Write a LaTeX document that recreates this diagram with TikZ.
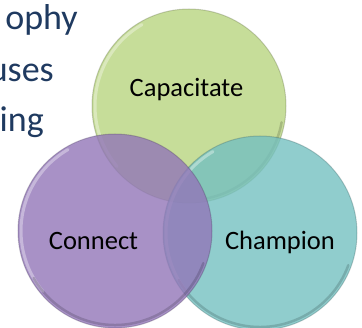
\documentclass[tikz,border=0pt]{standalone}
\usepackage{fontspec}
\setmainfont{Carlito}
\definecolor{gbase}{RGB}{184,212,128}
\definecolor{tbase}{RGB}{116,192,192}
\definecolor{pbase}{RGB}{146,118,184}
\definecolor{headblue}{RGB}{31,58,96}
\newcommand{\headfont}{\fontsize{36pt}{40pt}\selectfont}
\newcommand{\lblfont}{\fontsize{26.5pt}{30pt}\selectfont}
\tikzset{
  venn/.style={circle, minimum size=194pt, inner sep=0pt, fill opacity=0.8, draw opacity=0.3, line width=1pt},
  shine/.style={white, line width=3pt, opacity=0.35, line cap=round},
  rim/.style={line width=2.5pt, opacity=0.25, line cap=round},
  lbl/.style={text=black, inner sep=0pt, anchor=base},
  headtxt/.style={text=headblue, inner sep=0pt, anchor=base east}
}
\begin{document}
\begin{tikzpicture}[x=1pt,y=-1pt]
\useasboundingbox (0,0) rectangle (362,328);
\node[headtxt] (h1) at (78,29.5) {\headfont ophy};
\node[headtxt] (h2) at (54,82) {\headfont uses};
\node[headtxt] (h3) at (44,132) {\headfont ing};
\node[venn, fill=gbase, draw=gbase!50!black] (cg) at (189,106) {};
\draw[shine] (cg.center) ++(-120:94) arc[start angle=-120, end angle=-220, radius=94];
\draw[rim, draw=gbase!40!black] (cg.center) ++(10:94) arc[start angle=10, end angle=80, radius=94];
\node[venn, fill=tbase, draw=tbase!50!black] (ct) at (260,233) {};
\draw[shine] (ct.center) ++(-120:94) arc[start angle=-120, end angle=-220, radius=94];
\draw[rim, draw=tbase!40!black] (ct.center) ++(20:94) arc[start angle=20, end angle=150, radius=94];
\node[venn, fill=pbase, draw=pbase!50!black] (cp) at (115,231) {};
\draw[shine] (cp.center) ++(-120:94) arc[start angle=-120, end angle=-220, radius=94];
\draw[rim, draw=pbase!40!black] (cp.center) ++(20:94) arc[start angle=20, end angle=150, radius=94];
\node[lbl] (lg) at (186.5,97) {\lblfont Capacitate};
\node[lbl] (lp) at (93.5,250) {\lblfont Connect};
\node[lbl] (lt) at (280,250) {\lblfont Champion};
\end{tikzpicture}
\end{document}
